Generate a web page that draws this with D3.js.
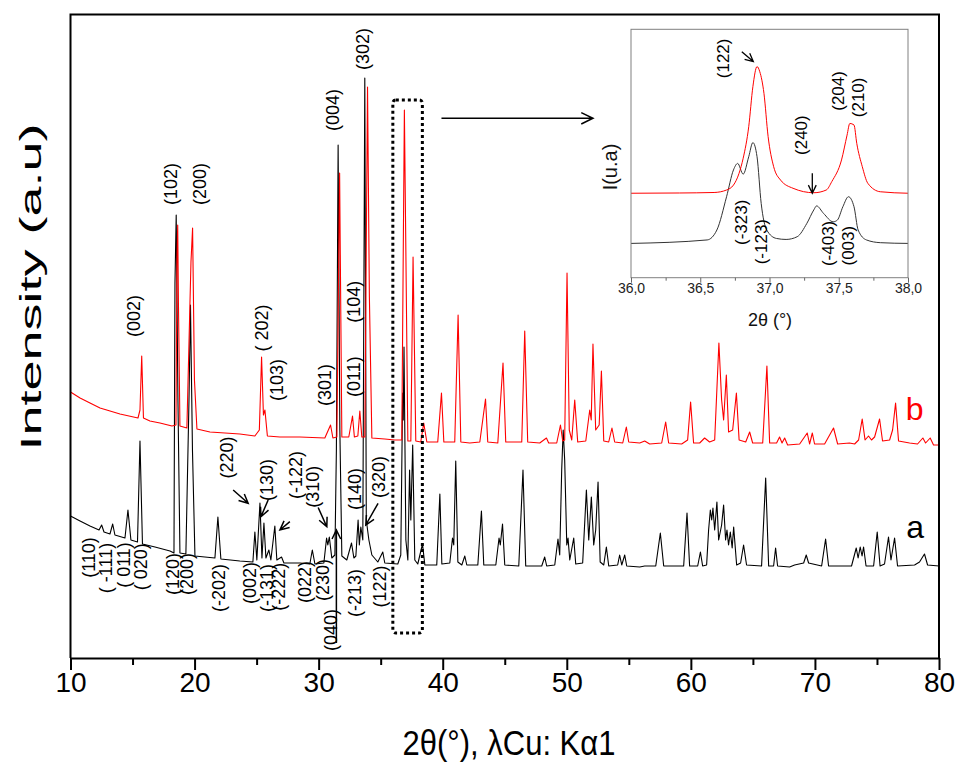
<!DOCTYPE html>
<html><head><meta charset="utf-8">
<script src="https://cdn.jsdelivr.net/npm/d3@7"></script>
<style>html,body{margin:0;padding:0;background:#fff;} svg{display:block;}</style>
</head><body>
<svg id="chart" width="961" height="765"></svg>
<script>
// ---- XRD pattern of sample a (2θ in degrees, intensity in counts, stacked offset) ----
const patternA = [[10.00,1420],[10.77,1370],[11.57,1320],[12.30,1280],[12.51,1330],[12.70,1260],[13.18,1240],[13.40,1340],[13.58,1230],[14.39,1200],[14.63,1480],[14.87,1180],[15.40,1160],[15.60,2170],[15.80,1140],[16.81,1110],[18.02,1070],[18.34,1050],[18.42,3750],[18.52,4430],[18.66,2580],[18.82,1050],[19.30,1040],[19.55,2580],[19.67,3530],[19.83,2080],[20.03,1020],[20.83,1010],[21.64,1000],[21.88,1410],[22.12,990],[23.65,970],[24.70,960],[24.86,1260],[25.02,980],[25.27,1550],[25.43,1000],[25.59,1350],[25.75,1000],[25.99,1080],[26.15,980],[26.47,1320],[26.63,980],[27.01,1010],[27.20,950],[28.49,950],[29.29,940],[29.49,1080],[29.70,940],[30.42,950],[30.64,1200],[30.74,1130],[30.86,1210],[31.06,1000],[31.31,1030],[31.43,2080],[31.57,5130],[31.71,2280],[31.87,1020],[32.27,980],[32.65,1150],[32.84,1000],[33.00,1020],[33.18,1380],[33.28,1130],[33.40,1310],[33.56,1180],[33.72,5800],[33.84,1380],[34.05,1180],[34.29,1030],[34.77,960],[35.17,1060],[35.33,950],[36.38,940],[36.62,1030],[36.77,2650],[36.82,2380],[36.88,3110],[37.03,1180],[37.19,980],[37.33,1880],[37.43,1380],[37.58,2130],[37.75,980],[37.99,940],[38.37,1140],[38.56,930],[39.52,930],[39.77,1640],[39.93,940],[40.57,950],[40.79,1200],[40.89,1130],[41.05,1970],[41.22,960],[41.54,930],[41.78,1020],[41.94,930],[42.83,930],[43.12,1470],[43.31,930],[44.28,930],[44.54,1200],[44.64,1130],[44.82,1340],[45.00,930],[46.13,920],[46.47,1880],[46.69,920],[47.98,920],[48.22,1010],[48.38,920],[49.03,930],[49.29,1190],[49.43,1030],[49.59,1880],[49.71,2280],[49.83,1980],[50.00,1130],[50.10,1200],[50.24,980],[50.56,1200],[50.72,940],[51.28,950],[51.58,1680],[51.77,1180],[51.98,1610],[52.17,1130],[52.33,1280],[52.52,1760],[52.69,960],[52.98,930],[53.19,1110],[53.38,920],[54.10,930],[54.26,1030],[54.43,930],[54.67,1030],[54.83,920],[55.88,910],[56.28,920],[57.17,920],[57.54,1250],[57.81,920],[59.42,920],[59.69,1450],[59.90,920],[60.55,920],[60.77,1060],[60.95,920],[61.27,930],[61.43,1280],[61.57,1480],[61.68,1380],[61.78,1500],[61.92,1280],[62.10,1560],[62.24,1180],[62.48,1330],[62.64,1530],[62.80,1180],[62.91,1280],[63.04,1130],[63.18,1260],[63.33,1100],[63.45,1310],[63.69,930],[64.01,950],[64.25,1130],[64.49,930],[65.70,920],[66.03,1800],[66.27,920],[66.67,920],[66.83,1100],[66.99,920],[67.96,910],[68.36,930],[69.09,950],[69.30,1030],[69.49,950],[70.54,920],[70.86,1190],[71.10,920],[72.95,920],[73.33,1100],[73.48,1000],[73.65,1110],[73.80,1020],[73.92,1110],[74.12,920],[74.73,920],[75.02,1260],[75.25,920],[75.61,940],[75.93,1210],[76.13,980],[76.42,1200],[76.66,920],[78.03,930],[78.43,960],[78.83,1040],[79.08,930],[80.00,920]];

// ---- XRD pattern of sample b ----
const patternB = [[10.00,2660],[10.77,2600],[11.57,2550],[12.38,2500],[13.99,2440],[15.44,2400],[15.60,2480],[15.74,3020],[15.88,2400],[16.40,2370],[17.21,2350],[18.18,2320],[18.50,2330],[18.58,3980],[18.64,4330],[18.70,3550],[18.82,2320],[19.38,2300],[19.71,3960],[19.84,4300],[19.99,2780],[20.19,2290],[21.24,2260],[22.45,2250],[23.65,2240],[24.86,2220],[25.22,2280],[25.40,3010],[25.55,2430],[25.67,2480],[25.87,2220],[26.88,2210],[28.49,2210],[30.50,2200],[30.96,2330],[31.15,2200],[31.47,2210],[31.69,4850],[31.87,2210],[32.43,2210],[32.73,2420],[32.88,2210],[33.16,2220],[33.32,2470],[33.48,2210],[33.72,2210],[33.94,5710],[34.09,3610],[34.29,2200],[35.33,2190],[36.14,2180],[36.70,2180],[36.91,5480],[37.19,2170],[37.43,2170],[37.61,4010],[37.83,2170],[38.23,2160],[38.47,2350],[38.72,2160],[39.60,2160],[39.90,2650],[40.09,2160],[40.57,2160],[40.97,2160],[41.24,3430],[41.46,2160],[42.18,2150],[42.99,2160],[43.45,2590],[43.63,2160],[44.44,2150],[44.86,2950],[45.08,2160],[45.81,2160],[46.37,2160],[46.61,3270],[46.85,2160],[47.82,2150],[48.36,2200],[48.54,2150],[49.19,2150],[49.49,2330],[49.67,2170],[49.83,2180],[50.02,3850],[50.20,2280],[50.40,2180],[50.64,2580],[50.88,2160],[51.53,2170],[51.85,2480],[51.97,2380],[52.11,3140],[52.33,2280],[52.61,2330],[52.79,2870],[52.98,2170],[53.38,2160],[53.64,2300],[53.86,2160],[54.51,2150],[54.80,2310],[54.99,2160],[55.88,2150],[56.28,2170],[56.68,2140],[57.65,2150],[57.97,2360],[58.21,2150],[59.26,2140],[59.74,2180],[59.98,2560],[60.22,2150],[60.71,2150],[61.11,2200],[61.51,2160],[61.92,2180],[62.26,3150],[62.48,2580],[62.64,2380],[62.86,2830],[63.04,2260],[63.37,2280],[63.67,2650],[63.89,2180],[64.42,2160],[64.74,2260],[64.98,2150],[65.79,2150],[66.13,2920],[66.35,2150],[66.91,2150],[67.15,2210],[67.35,2150],[67.56,2200],[67.80,2130],[68.77,2140],[69.38,2250],[69.57,2140],[69.79,2250],[69.97,2140],[70.78,2140],[71.50,2300],[71.83,2140],[72.79,2150],[73.20,2140],[73.52,2180],[73.81,2390],[74.04,2180],[74.32,2220],[74.56,2180],[74.81,2210],[75.21,2390],[75.45,2170],[76.02,2180],[76.26,2280],[76.50,2550],[76.74,2170],[77.63,2150],[78.27,2140],[78.70,2200],[78.92,2150],[79.29,2200],[79.56,2130],[80.00,2130]];

// ---- detail scan 36–38° (normalised intensity) ----
const detailA = [[36.00,13.8],[36.55,15.2],[36.62,19.2],[36.69,32.6],[36.74,43.4],[36.77,46.0],[36.81,41.7],[36.85,48.7],[36.88,54.4],[36.91,48.7],[36.94,29.9],[36.98,19.2],[37.05,15.8],[37.12,15.4],[37.20,16.5],[37.27,21.9],[37.32,27.3],[37.34,28.9],[37.39,25.9],[37.46,22.5],[37.49,23.2],[37.53,28.6],[37.57,32.6],[37.61,28.6],[37.64,19.2],[37.70,15.2],[37.80,14.1],[38.00,13.8]];
const detailB = [[36.00,34.0],[36.35,34.1],[36.60,34.3],[36.69,35.3],[36.74,37.3],[36.78,42.0],[36.81,48.1],[36.85,60.8],[36.88,76.9],[36.91,85.0],[36.93,82.9],[36.96,74.2],[36.99,56.8],[37.03,44.7],[37.08,39.3],[37.17,36.0],[37.32,34.2],[37.41,35.3],[37.45,38.7],[37.52,47.4],[37.56,57.4],[37.58,62.1],[37.61,61.5],[37.63,54.1],[37.67,44.7],[37.71,38.0],[37.80,34.6],[38.00,34.0]];

// ---- axis ticks ----
const mainTicks = [10, 20, 30, 40, 50, 60, 70, 80];
const mainMinorTicks = [15, 25, 35, 45, 55, 65, 75];
const detailTicks = [36.0, 36.5, 37.0, 37.5, 38.0];
const detailMinorTicks = [36.25, 36.75, 37.25, 37.75];

// ---- Miller indices: [text, 2θ, intensity] ----
const labelsB = [["(002)",15.09,3420],["(102)",18.14,4740],["(200)",20.43,4740],["( 202)",25.40,3300],["(103)",26.67,2780],["(301)",30.50,2730],["(011)",32.84,2813],["(104)",32.84,3563],["(004)",31.15,5480],["(302)",33.60,6090]];
const labelsALow = [["(110)",11.49,1005],["( -111)",12.90,900],["( 011)",14.31,930],["( 020)",15.72,913],["(120)",18.28,840],["(200)",19.42,840],["(-202)",21.96,700],["(002)",24.46,750],["(-131)",25.80,700],["(-222)",26.80,713],["(022)",28.89,760],["(230)",30.34,780],["(040)",30.98,280],["(-213)",32.92,650],["(122)",34.97,715]];
const labelsAHigh = [["(220)",22.65,2005],["(130)",25.87,1780],["(-122)",28.21,1830],["(310)",29.53,1713],["(140)",32.92,1690],["(320)",34.85,1810]];
// pointers: [2θ from, I from, 2θ to, I to]
const pointersA = [[23.11,1680,24.32,1547],[25.93,1580,25.35,1413],[27.68,1363,26.88,1280],[29.96,1505,30.66,1313],[34.79,1547,33.80,1330],[31.43,150,31.43,1280]];
const detailLabels = [["(122)",36.666,88.3],["(240)",37.232,57.4],["(204)",37.497,75.2],["(210)",37.641,72.6],["(-323)",36.799,22.3],["(-123)",36.944,14.5],["(-403)",37.425,13.8],["(003)",37.569,12.9]];
const detailPointers = [[36.80,91.0,36.883,87.0],[37.309,42.0,37.309,34.0]];
// zoomed window [2θ min, 2θ max, I min, I max] and its link arrow [2θ from, 2θ to, I]
const zoomWindow = [35.98, 38.36, 250, 5580];
const zoomLink = [39.90, 52.11, 5397];
const seriesNames = [["b", 78.03, 2490, "#ff0000"], ["a", 78.07, 1310, "#000000"]];

// ---- drawing ----
const svg = d3.select("#chart");
const FONT = '"Liberation Sans", Arial, sans-serif';

const x = d3.scaleLinear().domain([10, 80]).range([70.5, 939]);
const y = d3.scaleLinear().domain([0, 6435]).range([658, 14.5]);
const xi = d3.scaleLinear().domain([36, 38]).range([631, 908]);
const yi = d3.scaleLinear().domain([0, 100]).range([277.7, 29.3]);

function txt(g, t, px, py, o) {
  o = o || {};
  return g.append("text")
    .attr("transform", `translate(${px},${py}) rotate(${o.rot ?? -90}) scale(${o.sx ?? 1},${o.sy ?? 1})`)
    .attr("text-anchor", o.anchor || "middle")
    .attr("dominant-baseline", "central")
    .style("font-family", o.family || FONT)
    .style("font-size", (o.size || 17) + "px")
    .attr("fill", o.fill || "#000")
    .text(t);
}
function arrow(g, x1, y1, x2, y2, len, width) {
  const a = Math.atan2(y2 - y1, x2 - x1), s = 0.45;
  const h1 = [x2 - len * Math.cos(a - s), y2 - len * Math.sin(a - s)];
  const h2 = [x2 - len * Math.cos(a + s), y2 - len * Math.sin(a + s)];
  g.append("path")
    .attr("d", `M${x1},${y1}L${x2},${y2}M${h1[0]},${h1[1]}L${x2},${y2}L${h2[0]},${h2[1]}`)
    .attr("fill", "none").attr("stroke", "#000").attr("stroke-width", width || 1.5);
}

// traces
const line = d3.line().x(d => x(d[0])).y(d => y(d[1]));
svg.append("path").datum(patternA).attr("d", line)
  .attr("fill", "none").attr("stroke", "#000").attr("stroke-width", 1.1).attr("stroke-linejoin", "round");
svg.append("path").datum(patternB).attr("d", line)
  .attr("fill", "none").attr("stroke", "#ff0000").attr("stroke-width", 1.1).attr("stroke-linejoin", "round");

// frame
svg.append("path")
  .attr("d", `M${x(10)},${y(0)}V${y.range()[1]}H${x(80)}V${y(0)}`)
  .attr("fill", "none").attr("stroke", "#000").attr("stroke-width", 2);

// x axis
const ax = svg.append("g").attr("transform", `translate(0,${y(0)})`)
  .call(d3.axisBottom(x).tickValues(mainTicks).tickSize(12).tickSizeOuter(0).tickFormat(d3.format("d")));
ax.select(".domain").attr("stroke-width", 2);
ax.selectAll(".tick line").attr("stroke-width", 2);
ax.selectAll(".tick text").attr("dy", null).attr("y", 34)
  .style("font-family", FONT).style("font-size", "28px").attr("fill", "#000");
const axm = svg.append("g").attr("transform", `translate(0,${y(0)})`)
  .call(d3.axisBottom(x).tickValues(mainMinorTicks).tickSize(7).tickFormat(""));
axm.select(".domain").remove();
axm.selectAll(".tick line").attr("stroke-width", 2);

// axis titles
txt(svg, "2θ(°), λCu: Kα1", 509, 743, { rot: 0, size: 31, sy: 1.15 });
txt(svg, "Intensity (a.u)", 30, 287, { size: 30, sx: 1.8 });

// Miller index labels
const gl = svg.append("g");
labelsB.concat(labelsALow, labelsAHigh).forEach(d => txt(gl, d[0], x(d[1]), y(d[2]), { size: 18 }));
pointersA.forEach(d => arrow(gl, x(d[0]), y(d[1]), x(d[2]), y(d[3]), 10, 1.5));

// series names
seriesNames.forEach(d => txt(svg, d[0], x(d[1]), y(d[2]), { rot: 0, size: 32, fill: d[3] }));

// zoom window and link arrow
svg.append("rect")
  .attr("x", x(zoomWindow[0])).attr("y", y(zoomWindow[3]))
  .attr("width", x(zoomWindow[1]) - x(zoomWindow[0]))
  .attr("height", y(zoomWindow[2]) - y(zoomWindow[3]))
  .attr("rx", 3).attr("fill", "none").attr("stroke", "#000")
  .attr("stroke-width", 3).attr("stroke-dasharray", "3 3");
arrow(svg, x(zoomLink[0]), y(zoomLink[2]), x(zoomLink[1]), y(zoomLink[2]), 13, 1.5);

// ---- detail inset ----
const gi = svg.append("g");
const lineI = d3.line().x(d => xi(d[0])).y(d => yi(d[1])).curve(d3.curveMonotoneX);
gi.append("path").datum(detailA).attr("d", lineI).attr("fill", "none").attr("stroke", "#333").attr("stroke-width", 1);
gi.append("path").datum(detailB).attr("d", lineI).attr("fill", "none").attr("stroke", "#ff0000").attr("stroke-width", 1);
gi.append("rect").attr("x", xi(36)).attr("y", yi(100)).attr("width", xi(38) - xi(36)).attr("height", yi(0) - yi(100))
  .attr("fill", "none").attr("stroke", "#808080").attr("stroke-width", 1);
const axi = gi.append("g").attr("transform", `translate(0,${yi(0)})`)
  .call(d3.axisBottom(xi).tickValues(detailTicks).tickSize(5).tickSizeOuter(0)
    .tickFormat(d => d3.format(".1f")(d).replace(".", ",")));
axi.select(".domain").remove();
axi.selectAll(".tick line").attr("stroke", "#666");
axi.selectAll(".tick text").attr("dy", null).attr("y", 15)
  .style("font-family", FONT).style("font-size", "14px").attr("fill", "#222");
const axim = gi.append("g").attr("transform", `translate(0,${yi(0)})`)
  .call(d3.axisBottom(xi).tickValues(detailMinorTicks).tickSize(3).tickFormat(""));
axim.select(".domain").remove();
axim.selectAll(".tick line").attr("stroke", "#666");
txt(gi, "2θ (°)", 770, 320, { rot: 0, size: 18, fill: "#111" });
txt(gi, "I(u.a)", 610, 167, { size: 20, fill: "#111" });
detailLabels.forEach(d => txt(gi, d[0], xi(d[1]), yi(d[2]), { size: 17 }));
detailPointers.forEach(d => arrow(gi, xi(d[0]), yi(d[1]), xi(d[2]), yi(d[3]), 9, 1.3));
</script></body></html>
